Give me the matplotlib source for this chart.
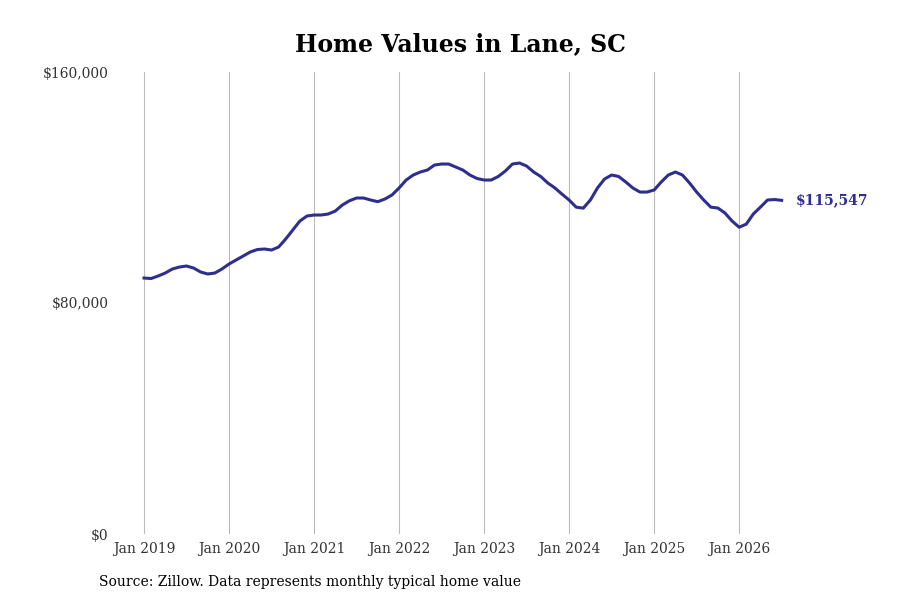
import matplotlib
matplotlib.use("Agg")
import matplotlib.pyplot as plt

values = [88650, 88480, 89350, 90380, 91770, 92460, 92810, 92110, 90730, 90040, 90380, 91770,
          93500, 94890, 96270, 97660, 98520, 98700, 98350, 99390, 102160, 105280, 108390, 110120,
          110470, 110470, 110820, 111850, 113940, 115410, 116360, 116360, 115660, 115090, 116010, 117400,
          119820, 122590, 124320, 125360, 126050, 127780, 128130, 128130, 127090, 126050, 124320, 123120,
          122590, 122590, 123810, 125700, 128130, 128480, 127440, 125360, 123810, 121550, 119830, 117700,
          115660, 113190, 112850, 115660, 119820, 122940, 124320, 123810, 121900, 119830, 118430, 118430,
          119130, 121900, 124320, 125360, 124320, 121550, 118430, 115660, 113190, 112890, 111160, 108390,
          106240, 107300, 110830, 113190, 115660, 115840, 115547]
tick_labels = ["Jan 2019", "Jan 2020", "Jan 2021", "Jan 2022", "Jan 2023", "Jan 2024", "Jan 2025", "Jan 2026"]
y_ticks = [0, 80000, 160000]
y_labels = ["$0", "$80,000", "$160,000"]

plt.rcParams['font.family'] = ['DejaVu Serif']
fig = plt.figure(figsize=(9, 6), dpi=100)
ax = fig.add_axes([0.13, 0.11, 0.77, 0.77])
color = "#2e2e8f"
x = list(range(len(values)))
ax.plot(x, values, color=color, lw=2.2)
ax.set_xlim(-3.81, 94.0)
ax.set_ylim(0, 160000)
ax.set_xticks([12 * i for i in range(len(tick_labels))])
ax.set_xticklabels(tick_labels, fontsize=10, color="#333333")
ax.set_yticks(y_ticks)
ax.set_yticklabels(y_labels, fontsize=10, color="#333333")
ax.tick_params(length=0, pad=6)
ax.grid(axis="x", color="#bbbbbb", lw=0.8)
for s in ax.spines.values():
    s.set_visible(False)
ax.text(x[-1] + 2, values[-1], f"${values[-1]:,}", color=color, fontsize=10,
        fontweight="bold", va="center")
fig.text(0.512, 0.927, "Home Values in Lane, SC", ha="center", va="center",
         fontsize=17, fontweight="bold")
fig.text(0.11, 0.03, "Source: Zillow. Data represents monthly typical home value",
         fontsize=10, va="center")
fig.savefig("out.png")
